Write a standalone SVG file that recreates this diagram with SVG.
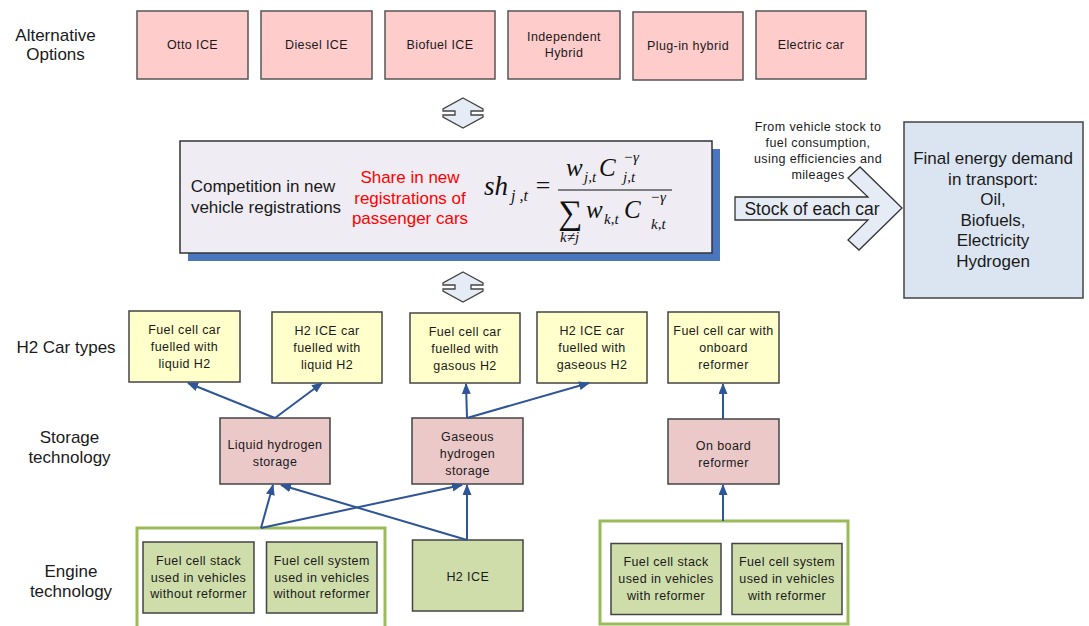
<svg xmlns="http://www.w3.org/2000/svg" width="1089" height="626" viewBox="0 0 1089 626">
<style>
text{font-family:"Liberation Sans",Arial,sans-serif;fill:#1a1a1a}
.lbl{font-size:17px;text-anchor:middle}
.sm{font-size:12.5px;letter-spacing:0.4px;text-anchor:middle}
.top{fill:#ffcccc;stroke:#555;stroke-width:1.5}
.yel{fill:#ffffcc;stroke:#444;stroke-width:1.5}
.sto{fill:#ecc9c9;stroke:#444;stroke-width:1.5}
.grn{fill:#cfddab;stroke:#444;stroke-width:1.5}
.cont{fill:#fff;stroke:#9bbb59;stroke-width:3}
.con{stroke:#2e5596;stroke-width:2;fill:none;marker-end:url(#ah)}
.dbl{fill:#e6ecf6;stroke:#444;stroke-width:1.3}
.m{font-family:"Liberation Serif","Times New Roman",serif;font-style:italic;fill:#111}
.red{fill:#ff0000}
</style>
<defs>
<marker id="ah" markerUnits="userSpaceOnUse" markerWidth="11" markerHeight="9" refX="10" refY="4.5" orient="auto">
<path d="M0,0 L11,4.5 L0,9 Z" fill="#2e5596"/>
</marker>
</defs>
<rect width="1089" height="626" fill="#fff"/>

<!-- row labels -->
<g id="labels">
<text class="lbl" x="55.5" y="41">Alternative</text>
<text class="lbl" x="55.5" y="60">Options</text>
<text class="lbl" x="66" y="353">H2 Car types</text>
<text class="lbl" x="69.5" y="443">Storage</text>
<text class="lbl" x="69.5" y="463">technology</text>
<text class="lbl" x="71" y="577">Engine</text>
<text class="lbl" x="71" y="597">technology</text>
</g>

<!-- top alternatives -->
<g id="otto"><rect class="top" x="137" y="11" width="111" height="68"/><text class="sm" x="192.5" y="49">Otto ICE</text></g>
<g id="diesel"><rect class="top" x="261" y="11" width="111" height="68"/><text class="sm" x="316.5" y="49">Diesel ICE</text></g>
<g id="biofuel"><rect class="top" x="385" y="11" width="110" height="68"/><text class="sm" x="440" y="49">Biofuel ICE</text></g>
<g id="indep"><rect class="top" x="508" y="11" width="112" height="68"/><text class="sm" x="564" y="41">Independent</text><text class="sm" x="564" y="57">Hybrid</text></g>
<g id="plugin"><rect class="top" x="633" y="12" width="110" height="68"/><text class="sm" x="688" y="50">Plug-in hybrid</text></g>
<g id="electric"><rect class="top" x="756" y="11" width="110" height="68"/><text class="sm" x="811" y="49">Electric car</text></g>

<!-- double arrows -->
<g id="dbl-top"><path class="dbl" d="M463,98 L483,109 L483,111 L471,111 L471,115 L483,115 L483,117 L463,128 L443,117 L443,115 L455,115 L455,111 L443,111 L443,109 Z"/></g>
<g id="dbl-bottom"><path class="dbl" d="M463,272 L483,283 L483,285 L471,285 L471,289 L483,289 L483,291 L463,302 L443,291 L443,289 L455,289 L455,285 L443,285 L443,283 Z"/></g>

<!-- competition box -->
<g id="competition">
<rect x="188" y="149" width="532" height="112" fill="#4a76c0"/>
<rect x="180" y="141" width="532" height="112" fill="#efedf3" stroke="#333" stroke-width="1.5"/>
<text class="lbl" x="263" y="192">Competition in new</text>
<text class="lbl" x="266" y="213">vehicle registrations</text>
<text class="lbl red" x="410" y="183">Share in new</text>
<text class="lbl red" x="410" y="204">registrations of</text>
<text class="lbl red" x="410" y="224">passenger cars</text>
<text class="m" x="484" y="195" font-size="27">sh</text>
<text class="m" x="511" y="201" font-size="16">j ,t</text>
<text class="m" x="534" y="194" font-size="26" font-style="normal">=</text>
<line x1="558" y1="190" x2="672" y2="190" stroke="#111" stroke-width="1.2"/>
<text class="m" x="566" y="176" font-size="25">w</text>
<text class="m" x="584" y="182" font-size="15">j,t</text>
<text class="m" x="599" y="176" font-size="25">C</text>
<text class="m" x="623" y="162" font-size="15">−γ</text>
<text class="m" x="623" y="182" font-size="15">j,t</text>
<text class="m" x="558" y="224" font-size="34" font-style="normal">∑</text>
<text class="m" x="586" y="218" font-size="25">w</text>
<text class="m" x="604" y="224" font-size="15">k,t</text>
<text class="m" x="624" y="218" font-size="25">C</text>
<text class="m" x="650" y="202" font-size="15">−γ</text>
<text class="m" x="651" y="229" font-size="15">k,t</text>
<text class="m" x="560" y="242" font-size="15">k≠j</text>
</g>

<!-- stock arrow -->
<g id="stock">
<text class="sm" x="818" y="131">From vehicle stock to</text>
<text class="sm" x="818" y="147">fuel consumption,</text>
<text class="sm" x="818" y="163">using efficiencies and</text>
<text class="sm" x="818" y="179">mileages</text>
<path d="M735,197 L868,197 L848,178 L860,167 L902,208 L859,250 L848,240 L868,220 L735,220 Z" fill="#e6ecf6" stroke="#333" stroke-width="1.3"/>
<text x="812" y="215" font-size="17.5" text-anchor="middle">Stock of each car</text>
</g>

<!-- final energy -->
<g id="final">
<rect x="904" y="122" width="179" height="176" fill="#dbe5f1" stroke="#444" stroke-width="1.5"/>
<text class="lbl" x="993" y="164">Final energy demand</text>
<text class="lbl" x="993" y="184.5">in transport:</text>
<text class="lbl" x="993" y="205">Oil,</text>
<text class="lbl" x="993" y="225.5">Biofuels,</text>
<text class="lbl" x="993" y="246">Electricity</text>
<text class="lbl" x="993" y="266.5">Hydrogen</text>
</g>

<!-- H2 car types -->
<g id="fc-liquid"><rect class="yel" x="129" y="311" width="111" height="71"/><text class="sm" x="184.5" y="334">Fuel cell car</text><text class="sm" x="184.5" y="351">fuelled with</text><text class="sm" x="184.5" y="368">liquid H2</text></g>
<g id="ice-liquid"><rect class="yel" x="272" y="312" width="110" height="71"/><text class="sm" x="327" y="335">H2 ICE car</text><text class="sm" x="327" y="352">fuelled with</text><text class="sm" x="327" y="369">liquid H2</text></g>
<g id="fc-gas"><rect class="yel" x="410" y="313" width="110" height="70"/><text class="sm" x="465" y="336">Fuel cell car</text><text class="sm" x="465" y="353">fuelled with</text><text class="sm" x="465" y="370">gasous H2</text></g>
<g id="ice-gas"><rect class="yel" x="537" y="312" width="110" height="71"/><text class="sm" x="592" y="334.5">H2 ICE car</text><text class="sm" x="592" y="351.5">fuelled with</text><text class="sm" x="592" y="368.5">gaseous H2</text></g>
<g id="fc-onboard"><rect class="yel" x="668" y="312" width="111" height="71"/><text class="sm" x="723.5" y="334.5">Fuel cell car with</text><text class="sm" x="723.5" y="351.5">onboard</text><text class="sm" x="723.5" y="368.5">reformer</text></g>

<!-- storage -->
<g id="liquid-storage"><rect class="sto" x="220" y="418" width="110" height="66"/><text class="sm" x="275" y="448.5">Liquid hydrogen</text><text class="sm" x="275" y="465.5">storage</text></g>
<g id="gas-storage"><rect class="sto" x="412" y="418" width="111" height="66"/><text class="sm" x="467.5" y="441">Gaseous</text><text class="sm" x="467.5" y="458">hydrogen</text><text class="sm" x="467.5" y="475">storage</text></g>
<g id="onboard-reformer"><rect class="sto" x="668" y="419" width="111" height="65"/><text class="sm" x="723.5" y="449.5">On board</text><text class="sm" x="723.5" y="467">reformer</text></g>

<!-- engine -->
<g id="engine-group-left"><rect class="cont" x="137" y="528" width="248" height="110"/></g>
<g id="engine-group-right"><rect class="cont" x="600" y="521" width="248" height="103"/></g>
<g id="fcs-wo"><rect class="grn" x="143" y="542" width="111" height="71"/><text class="sm" x="198.5" y="564.5">Fuel cell stack</text><text class="sm" x="198.5" y="581.5">used in vehicles</text><text class="sm" x="198.5" y="598">without reformer</text></g>
<g id="fcsys-wo"><rect class="grn" x="266.5" y="542" width="110.5" height="71"/><text class="sm" x="321.8" y="564.5">Fuel cell system</text><text class="sm" x="321.8" y="581.5">used in vehicles</text><text class="sm" x="321.8" y="598">without reformer</text></g>
<g id="h2ice"><rect class="grn" x="412.5" y="540" width="110.5" height="71"/><text class="sm" x="467.8" y="580.5">H2 ICE</text></g>
<g id="fcs-w"><rect class="grn" x="611" y="543.5" width="110" height="71"/><text class="sm" x="666" y="566">Fuel cell stack</text><text class="sm" x="666" y="583">used in vehicles</text><text class="sm" x="666" y="599.5">with reformer</text></g>
<g id="fcsys-w"><rect class="grn" x="732" y="543.5" width="110" height="71"/><text class="sm" x="787" y="566">Fuel cell system</text><text class="sm" x="787" y="583">used in vehicles</text><text class="sm" x="787" y="599.5">with reformer</text></g>

<!-- connectors -->
<g id="connectors">
<path class="con" d="M275,418 L188,383"/>
<path class="con" d="M275,418 L322,383"/>
<path class="con" d="M467,418 L466,384"/>
<path class="con" d="M467,418 L589,383"/>
<path class="con" d="M723,419 L723,384"/>
<path class="con" d="M261,528 L273,485"/>
<path class="con" d="M261,528 L462,485"/>
<path class="con" d="M467,540 L281,485"/>
<path class="con" d="M467,540 L467,485"/>
<path class="con" d="M723,521 L723,485"/>
</g>
</svg>
